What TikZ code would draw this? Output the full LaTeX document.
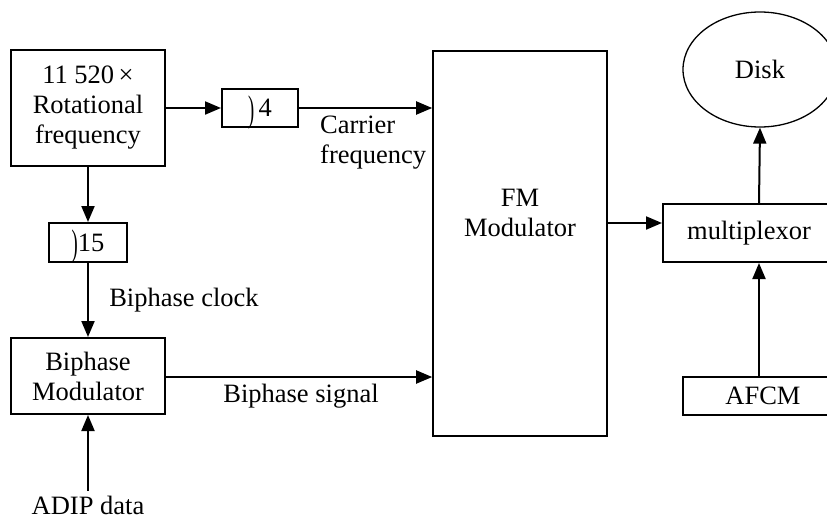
\documentclass[tikz,border=0pt]{standalone}
\usepackage{fontspec}
\setmainfont{Liberation Serif}
\usetikzlibrary{arrows.meta,shapes.geometric}
\newcommand{\divsign}{\smash{\raisebox{-0.18em}{\scalebox{0.7}[1.4]{)}}}}
\begin{document}
\begin{tikzpicture}[x=1pt,y=-1pt,
  every node/.style={font=\fontsize{26.5}{30}\selectfont},
  blk/.style={draw,line width=2pt,inner sep=0pt,align=center},
  fmblk/.style={draw,line width=1.6pt,inner sep=0pt},
  lbl/.style={inner sep=0pt,align=left},
  arr/.style={line width=2pt,-{Triangle[length=16pt,width=13pt]}}]
\useasboundingbox (0,0) rectangle (827,522);
\clip (0,0) rectangle (827,522);
\node[blk,minimum width=154pt,minimum height=116pt] (rot) at (88,108) {11 520\,×\\Rotational\\frequency};
\node[blk,minimum width=76pt,minimum height=38pt] (d4) at (260,108) {\divsign\,4};
\node[fmblk,minimum width=174pt,minimum height=385pt] (fm) at (520,243.5) {};
\node[lbl,align=center] (fmtxt) at (520,213) {FM\\Modulator};
\node[blk,minimum width=172pt,minimum height=58pt] (mux) at (749,233) {multiplexor};
\node[draw,ellipse,line width=1.3pt,minimum width=154pt,minimum height=115pt,inner sep=0pt] (disk) at (760,69.5) {Disk};
\node[blk,minimum width=160pt,minimum height=38pt] (afcm) at (763,396) {AFCM};
\node[blk,minimum width=78pt,minimum height=39pt] (d15) at (88,242.5) {\divsign15};
\node[blk,minimum width=154pt,minimum height=76pt] (bm) at (88,376) {Biphase\\Modulator};
\node[lbl] (adip) at (88,505) {ADIP data};
\node[lbl,anchor=west] (carrier) at (320,143) {Carrier\\frequency};
\node[lbl] (bclk) at (184,300) {Biphase clock};
\node[lbl] (bsig) at (301,396) {Biphase signal};
\coordinate (adipTop) at (88,491);
\draw[arr] (rot.east) -- (d4.west);
\draw[arr] (d4.east) -- (d4.east -| fm.west);
\draw[arr] (rot.south) -- (d15.north);
\draw[arr] (d15.south) -- (bm.north);
\draw[arr] ([yshift=-1pt]bm.east) -- ([yshift=-1pt]bm.east -| fm.west);
\draw[arr] (adipTop) -- (bm.south);
\draw[arr] ([yshift=20.5pt]fm.east) -- ([yshift=10pt]mux.west);
\draw[arr] ([xshift=10pt]mux.north) -- (disk.south);
\draw[arr] ([xshift=-4pt]afcm.north) -- ([xshift=10pt]mux.south);
\end{tikzpicture}
\end{document}
